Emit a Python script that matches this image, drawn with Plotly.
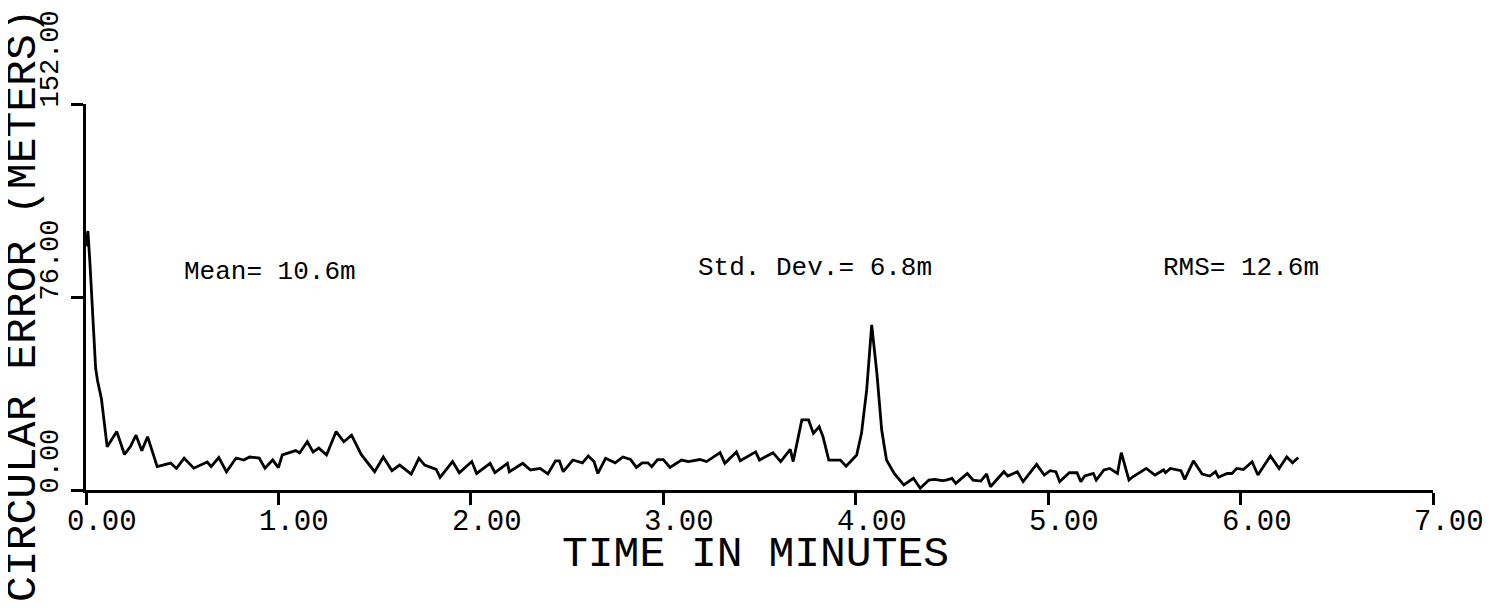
import plotly.graph_objects as go

# ---- data ----
time_min = [
    0.00, 0.01, 0.02, 0.03, 0.04, 0.05, 0.06, 0.08, 0.10, 0.11,
    0.16, 0.20, 0.23, 0.26, 0.29, 0.32, 0.37, 0.44, 0.47, 0.51,
    0.56, 0.63, 0.65, 0.69, 0.73, 0.78, 0.82, 0.85, 0.90, 0.93,
    0.97, 1.00, 1.02, 1.09, 1.11, 1.15, 1.18, 1.21, 1.25, 1.30,
    1.34, 1.38, 1.43, 1.50, 1.545, 1.59, 1.63, 1.69, 1.73, 1.76,
    1.82, 1.84, 1.905, 1.94, 2.005, 2.03, 2.10, 2.125, 2.19, 2.20,
    2.27, 2.31, 2.36, 2.40, 2.44, 2.46, 2.48, 2.53, 2.58, 2.61,
    2.64, 2.66, 2.70, 2.72, 2.75, 2.79, 2.83, 2.86, 2.89, 2.92,
    2.94, 2.97, 3.00, 3.035, 3.095, 3.13, 3.19, 3.225, 3.295, 3.32,
    3.38, 3.40, 3.48, 3.50, 3.57, 3.61, 3.66, 3.675, 3.72, 3.755,
    3.78, 3.81, 3.83, 3.86, 3.92, 3.95, 4.005, 4.03, 4.057, 4.083,
    4.11, 4.135, 4.16, 4.20, 4.25, 4.30, 4.335, 4.38, 4.41, 4.45,
    4.47, 4.50, 4.52, 4.58, 4.61, 4.65, 4.68, 4.70, 4.77, 4.79,
    4.84, 4.87, 4.94, 4.98, 5.01, 5.04, 5.06, 5.11, 5.15, 5.17,
    5.19, 5.235, 5.25, 5.29, 5.32, 5.36, 5.38, 5.42, 5.44, 5.51,
    5.555, 5.60, 5.61, 5.635, 5.69, 5.71, 5.755, 5.80, 5.84, 5.87,
    5.885, 5.93, 5.955, 5.98, 6.015, 6.06, 6.09, 6.155, 6.20, 6.24,
    6.27, 6.30,
]
circular_error_m = [
    96.0, 102.0, 90.0, 78.0, 62.0, 48.0, 43.0, 36.0, 24.0, 17.0,
    23.0, 14.0, 17.0, 21.6, 15.5, 21.0, 9.2, 10.6, 8.5, 12.5,
    8.6, 11.0, 9.2, 12.8, 7.2, 12.6, 11.8, 13.0, 12.6, 8.6,
    11.8, 8.8, 13.8, 15.5, 14.6, 19.0, 15.0, 16.5, 13.8, 23.0,
    19.0, 21.6, 14.0, 7.2, 13.0, 7.6, 9.8, 6.3, 12.5, 9.8,
    8.1, 5.0, 11.2, 6.8, 11.2, 6.5, 10.5, 6.8, 10.5, 7.2,
    10.5, 7.9, 8.5, 6.3, 11.5, 11.5, 7.2, 11.8, 10.7, 13.4,
    11.2, 6.5, 12.5, 11.8, 10.7, 13.0, 12.0, 8.9, 10.7, 10.7,
    9.2, 12.0, 12.0, 8.9, 11.8, 11.2, 12.0, 11.2, 14.7, 10.5,
    15.0, 11.5, 15.0, 11.8, 14.7, 11.2, 16.0, 11.2, 27.6, 27.6,
    22.3, 24.9, 21.0, 11.8, 11.8, 9.4, 13.8, 22.3, 39.4, 65.0,
    46.0, 23.6, 11.8, 6.5, 2.0, 4.6, 0.7, 3.9, 4.2, 3.7,
    3.9, 4.6, 2.6, 6.5, 3.9, 3.5, 6.3, 1.3, 7.2, 5.5,
    7.2, 3.3, 10.1, 5.9, 7.6, 7.2, 3.3, 6.8, 6.8, 3.3,
    5.5, 6.5, 3.9, 7.9, 8.5, 6.5, 14.7, 3.9, 5.2, 8.5,
    5.9, 7.9, 6.8, 8.5, 7.6, 4.2, 11.5, 6.3, 5.5, 7.2,
    5.0, 6.5, 6.5, 8.5, 8.1, 11.1, 5.9, 13.4, 8.5, 13.0,
    10.7, 12.8,
]

x_tick_values = [0, 1, 2, 3, 4, 5, 6, 7]
x_tick_labels = ["0.00", "1.00", "2.00", "3.00", "4.00", "5.00", "6.00", "7.00"]
y_tick_values = [0, 76, 152]
y_tick_labels = ["0.00", "76.00", "152.00"]

stat_labels = ["Mean= 10.6m", "Std. Dev.= 6.8m", "RMS= 12.6m"]
stat_x = [0.956, 3.79, 6.0]
stat_y = [85.8, 87.4, 87.4]

x_title = "TIME IN MINUTES"
y_title = "CIRCULAR ERROR (METERS)"

# ---- layout geometry (screen pixels; the page body adds an 8px offset) ----
OFF = 8
W, H = 1505 - OFF, 614 - OFF
L, R, T, B = 86, 1433, 104, 490          # plot box on screen
FONT = "Liberation Mono"


def px(xs):
    return (xs - L) / (R - L)


def py(ys):
    return (B - ys) / (B - T)


fig = go.Figure()
fig.add_trace(go.Scatter(
    x=time_min, y=circular_error_m, mode="lines",
    line=dict(color="black", width=2.8), hoverinfo="skip", showlegend=False,
))

annotations = []
for txt, xv, yv in zip(stat_labels, stat_x, stat_y):
    annotations.append(dict(
        x=xv, y=yv, xref="x", yref="y", text=txt, showarrow=False,
        font=dict(family=FONT, size=26, color="black"),
        xanchor="center", yanchor="middle",
    ))

# x tick labels, slightly right of each tick (plotter style)
for val, lab in zip(x_tick_values, x_tick_labels):
    annotations.append(dict(
        x=val, y=0, xref="x", yref="y", text=lab, showarrow=False,
        font=dict(family=FONT, size=29, color="black"),
        xanchor="center", yanchor="middle", xshift=16, yshift=-32,
    ))

# rotated y tick labels sitting just above each tick
for val, lab in zip(y_tick_values, y_tick_labels):
    annotations.append(dict(
        x=px(50), y=val, xref="paper", yref="y", text=lab, showarrow=False,
        textangle=-90, font=dict(family=FONT, size=27, color="black"),
        xanchor="center", yanchor="bottom", yshift=-6,
    ))

annotations.append(dict(
    x=px(755), y=py(554), xref="paper", yref="paper", text=x_title,
    showarrow=False, font=dict(family=FONT, size=43, color="black"),
    xanchor="center", yanchor="middle",
))
annotations.append(dict(
    x=px(23), y=py(305), xref="paper", yref="paper", text=y_title,
    showarrow=False, textangle=-90,
    font=dict(family=FONT, size=43, color="black"),
    xanchor="center", yanchor="middle",
))

fig.update_layout(
    width=W, height=H,
    margin=dict(l=L - OFF, r=W - (R - OFF), t=T - OFF, b=H - (B - OFF), pad=0),
    paper_bgcolor="white", plot_bgcolor="white",
    annotations=annotations,
    xaxis=dict(
        range=[0, 7], tickvals=x_tick_values, showticklabels=False,
        showgrid=False, zeroline=False, showline=True, linecolor="black",
        linewidth=2.5, ticks="outside", ticklen=12, tickwidth=2.5,
        tickcolor="black",
    ),
    yaxis=dict(
        range=[0, 152], tickvals=y_tick_values, showticklabels=False,
        showgrid=False, zeroline=False, showline=True, linecolor="black",
        linewidth=2.5, ticks="outside", ticklen=12, tickwidth=2.5,
        tickcolor="black",
    ),
)

fig.write_html("out.html")
